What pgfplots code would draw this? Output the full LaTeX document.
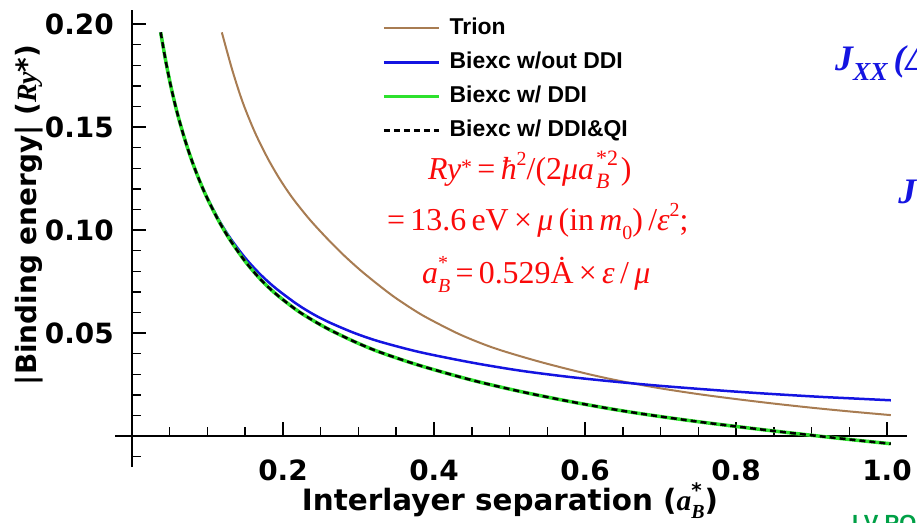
\documentclass[border=0pt]{standalone}
\usepackage{fontspec}
\usepackage{pgfplots}
\pgfplotsset{compat=1.18}
\setmainfont{Liberation Sans}
\newfontfamily\dvsans{DejaVu Sans}
\newfontfamily\lserif{Liberation Serif}

\definecolor{trion}{RGB}{168,124,82}
\definecolor{biexblue}{RGB}{20,20,225}
\definecolor{biexgreen}{RGB}{45,225,45}
\definecolor{slidegreen}{RGB}{0,160,70}
\definecolor{formred}{RGB}{250,10,10}

% script sizes used for super/subscripts in text
\newcommand{\sml}[1]{{\fontsize{20}{20}\selectfont #1}}
\newcommand{\smm}[1]{{\fontsize{22}{22}\selectfont #1}}
% stacked superscript/subscript in text mode
\newdimen\sswidth
\newcommand{\supsub}[2]{%
  \setbox0\hbox{#1}\setbox2\hbox{#2}%
  \ifdim\wd0>\wd2 \sswidth=\wd0 \else \sswidth=\wd2 \fi
  \makebox[\sswidth][l]{\rlap{\raisebox{0.42em}{\box0}}\raisebox{-0.3em}{\box2}}}

\begin{document}
\begin{tikzpicture}
\begin{axis}[
  x=755bp, y=2060bp,
  xmin=-0.022, xmax=1.026, ymin=-0.015, ymax=0.207,
  axis lines=middle,
  axis line style={line width=2bp, -},
  every inner x axis line/.append style={-},
  every inner y axis line/.append style={-},
  clip=false,
  xtick={0.2,0.4,0.6,0.8,1.0},
  xticklabels={0.2,0.4,0.6,0.8,1.0},
  minor xtick={0,0.05,0.1,0.15,0.25,0.3,0.35,0.45,0.5,0.55,0.65,0.7,0.75,0.85,0.9,0.95},
  ytick={0.05,0.10,0.15,0.20},
  yticklabels={0.05,0.10,0.15,0.20},
  minor ytick={-0.01,0.01,0.02,0.03,0.04,0.06,0.07,0.08,0.09,0.11,0.12,0.13,0.14,0.16,0.17,0.18,0.19},
  % ticks sit on the plot side of each axis line
  tick align=center,
  major tick length=14bp, minor tick length=9bp,
  tick style={line width=1.5bp, black},
  every major x tick/.append style={yshift=7bp},
  every minor x tick/.append style={yshift=4.5bp},
  every major y tick/.append style={xshift=7bp},
  every minor y tick/.append style={xshift=4.5bp},
  ticklabel style={font=\dvsans\bfseries\fontsize{28}{30}\selectfont},
  xticklabel style={anchor=north, inner sep=0pt, yshift=-16bp},
  yticklabel style={anchor=east, inner sep=0pt, xshift=-11bp},
  legend image code/.code={\draw[#1] (0bp,0bp) -- (55bp,0bp);},
  legend cell align=left,
  legend style={at={(axis cs:0.331,0.2034)}, anchor=north west,
    draw=none, fill=none, inner sep=0pt,
    row sep=12bp, column sep=9bp,
    font=\bfseries\fontsize{23}{26}\selectfont,
    nodes={inner sep=0pt, text height=17bp, text depth=5bp}},
]

% Trion
\addplot[trion, line width=2bp, smooth, tension=0.5] coordinates {
(0.119,0.1960) (0.133,0.1775) (0.147,0.1617) (0.163,0.1473) (0.180,0.1347)
(0.196,0.1246) (0.213,0.1154) (0.235,0.1053) (0.258,0.0961) (0.280,0.0880)
(0.302,0.0807) (0.324,0.0741) (0.346,0.0679) (0.370,0.0620) (0.391,0.0574)
(0.434,0.0494) (0.480,0.0427) (0.540,0.0361) (0.600,0.0305) (0.646,0.0268)
(0.700,0.0232) (0.752,0.0203) (0.800,0.0180) (0.850,0.0158) (0.900,0.0138)
(0.950,0.0120) (1.005,0.0102)};
\addlegendentry{Trion}

% Biexciton without dipole-dipole interaction
\addplot[biexblue, line width=2.5bp, smooth, tension=0.5] coordinates {
(0.038,0.1960) (0.045,0.1815) (0.052,0.1690) (0.060,0.1568) (0.070,0.1440)
(0.080,0.1330) (0.090,0.1236) (0.100,0.1155) (0.115,0.1050) (0.130,0.0962)
(0.150,0.0865) (0.170,0.0785) (0.190,0.0719) (0.218,0.0642) (0.240,0.0592)
(0.262,0.0551) (0.295,0.0500) (0.328,0.0459) (0.381,0.0408) (0.450,0.0357)
(0.514,0.0318) (0.580,0.0287) (0.646,0.0262) (0.700,0.0244) (0.752,0.0229)
(0.800,0.0216) (0.850,0.0204) (0.910,0.0191) (0.960,0.0182) (1.005,0.0174)};
\addlegendentry{Biexc w/out DDI}

% Biexciton with dipole-dipole interaction
\addplot[biexgreen, line width=3.5bp, smooth, tension=0.5] coordinates {
(0.038,0.1960) (0.045,0.1815) (0.052,0.1690) (0.060,0.1568) (0.070,0.1440)
(0.080,0.1330) (0.090,0.1235) (0.100,0.1152) (0.115,0.1044) (0.130,0.0952)
(0.150,0.0848) (0.170,0.0762) (0.190,0.0692) (0.218,0.0612) (0.240,0.0561)
(0.262,0.0516) (0.295,0.0458) (0.328,0.0408) (0.381,0.0343) (0.450,0.0272)
(0.514,0.0217) (0.580,0.0168) (0.646,0.0125) (0.700,0.0095) (0.752,0.0069)
(0.800,0.0047) (0.850,0.0025) (0.910,0.0000) (0.960,-0.0020) (1.005,-0.0037)};
\addlegendentry{Biexc w/ DDI}

% Biexciton with dipole-dipole and quadrupole interactions
\addplot[black, line width=2.5bp, dash pattern=on 6bp off 4bp, smooth, tension=0.5] coordinates {
(0.038,0.1960) (0.045,0.1815) (0.052,0.1690) (0.060,0.1568) (0.070,0.1440)
(0.080,0.1330) (0.090,0.1235) (0.100,0.1152) (0.115,0.1044) (0.130,0.0952)
(0.150,0.0848) (0.170,0.0762) (0.190,0.0692) (0.218,0.0612) (0.240,0.0561)
(0.262,0.0516) (0.295,0.0458) (0.328,0.0408) (0.381,0.0343) (0.450,0.0272)
(0.514,0.0217) (0.580,0.0168) (0.646,0.0125) (0.700,0.0095) (0.752,0.0069)
(0.800,0.0047) (0.850,0.0025) (0.910,0.0000) (0.960,-0.0020) (1.005,-0.0037)};
\addlegendentry{Biexc w/ DDI\&QI}

% axis titles
\node[anchor=base, inner sep=0pt] at (axis cs:0.5007,-0.0359)
  {\dvsans\bfseries\fontsize{29.5}{31}\selectfont Interlayer separation (%
   {\lserif\itshape a}\supsub{\sml{*}}{\sml{\lserif\itshape B}})};
\node[anchor=base, inner sep=0pt, rotate=90] at (axis cs:-0.1258,0.1073)
  {\dvsans\bfseries\fontsize{28}{30}\selectfont |Binding energy| ({\lserif\itshape Ry}*)};

% unit definitions
\begin{scope}[every node/.style={anchor=base west, inner sep=0pt, text=formred,
    font=\lserif\fontsize{32}{34}\selectfont}]
\node at (axis cs:0.392,0.1248)
  {\textit{Ry}\raisebox{0.15em}{\smm{*}}\,=\,\textit{ħ}\raisebox{0.42em}{\sml{2}}/(2\textit{μa}\hspace{2bp}\supsub{\smm{*2}}{\smm{\textit{B}}}\hspace{3bp})};
\node at (axis cs:0.3377,0.1000)
  {=\,13.6\,eV\,×\,\textit{μ}\,(in\,\textit{m}\raisebox{-0.3em}{\sml{0}})\,/\textit{ε}\raisebox{0.42em}{\sml{2}};};
\node at (axis cs:0.384,0.0743)
  {\textit{a}\supsub{\sml{*}}{\sml{\textit{B}}}\,=\,0.529Ȧ\,×\,\textit{ε}\,/\,\textit{μ}};
\end{scope}

% neighbouring slide text
\node[anchor=base west, inner sep=0pt, text=biexblue, font=\lserif\bfseries\itshape\fontsize{36}{38}\selectfont]
  at (axis cs:0.931,0.1777) {J\raisebox{-0.3em}{\fontsize{26}{26}\selectfont XX}\,(Δ};
\node[anchor=base west, inner sep=0pt, text=biexblue, font=\lserif\bfseries\itshape\fontsize{36}{38}\selectfont]
  at (axis cs:1.0146,0.1131) {J};
\node[anchor=base west, inner sep=0pt, text=slidegreen, font=\bfseries\fontsize{22}{24}\selectfont]
  at (axis cs:0.9536,-0.0456) {LV PO};

% page frame
\coordinate (pagebl) at (axis cs:-0.1748,-0.04175);
\coordinate (pagetr) at (axis cs:1.0397,0.2117);
\end{axis}
\pgfresetboundingbox
\useasboundingbox (pagebl) rectangle (pagetr);
\end{tikzpicture}
\end{document}
